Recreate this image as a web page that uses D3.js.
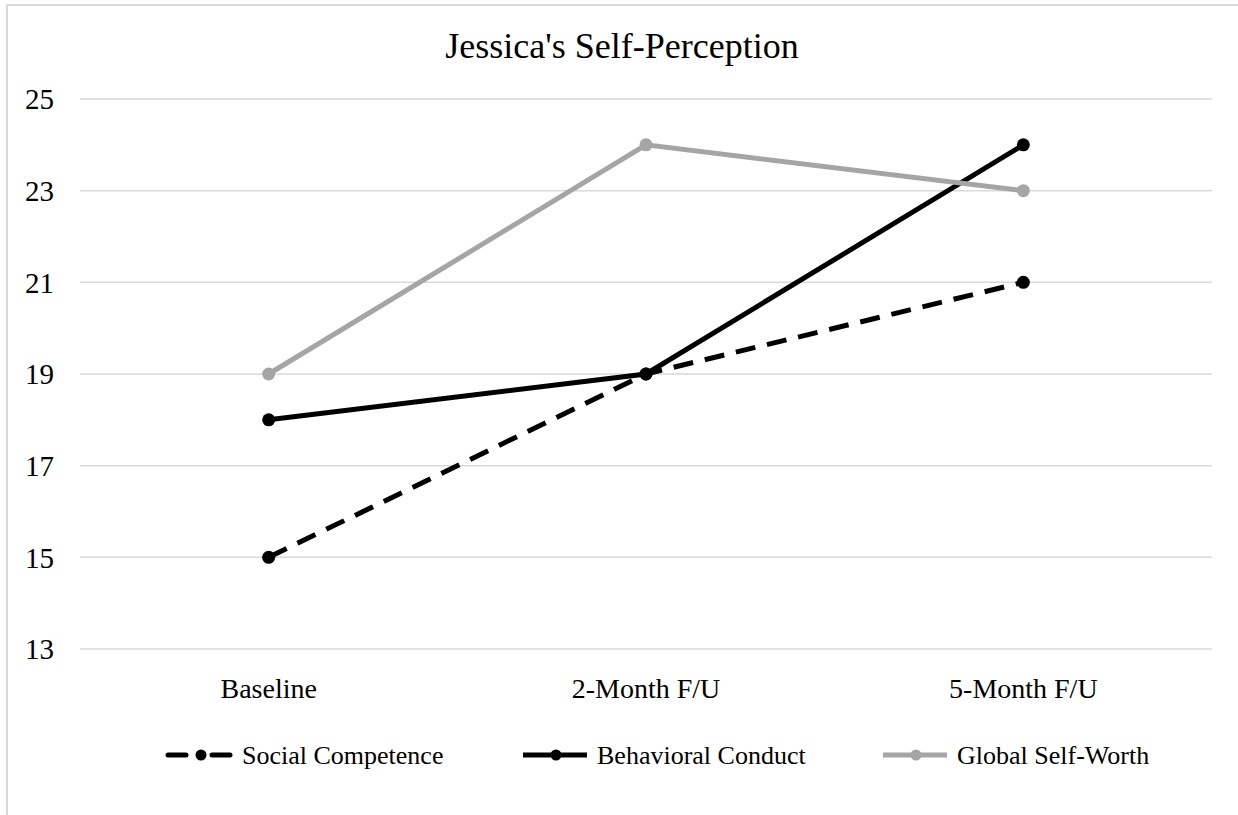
<!DOCTYPE html>
<html lang="en">
<head>
    <meta charset="UTF-8">
    <title>Jessica's Self-Perception</title>
    <script src="https://d3js.org/d3.v7.min.js"></script>
    <style>
        body { margin: 0; background: #fff; }
        text { font-family: "Liberation Serif", "Times New Roman", serif; fill: #000; }
    </style>
</head>
<body>
<script>
    // data
    var categories = ['Baseline', '2-Month F/U', '5-Month F/U'];
    var yTicks = [13, 15, 17, 19, 21, 23, 25];
    var seriesNames = ['Social Competence', 'Behavioral Conduct', 'Global Self-Worth'];
    var socialCompetence = [15, 19, 21];
    var behavioralConduct = [18, 19, 24];
    var globalSelfWorth = [19, 24, 23];

    var w = 1238, h = 815;
    var plotLeft = 80, plotRight = 1212, plotTop = 99, plotBottom = 649;

    var svg = d3.select('body').append('svg')
        .attr('width', w)
        .attr('height', h);

    // frame
    svg.append('rect')
        .attr('x', 7).attr('y', 5)
        .attr('width', w + 10).attr('height', h + 10)
        .attr('fill', 'none')
        .attr('stroke', '#d9d9d9')
        .attr('stroke-width', 2);

    var x = d3.scaleBand().domain(categories).range([plotLeft, plotRight]);
    var y = d3.scaleLinear().domain([13, 25]).range([plotBottom, plotTop]);

    // gridlines
    svg.append('g')
        .selectAll('line')
        .data(yTicks)
        .enter()
        .append('line')
        .attr('x1', plotLeft).attr('x2', plotRight)
        .attr('y1', d => y(d)).attr('y2', d => y(d))
        .attr('stroke', '#d9d9d9')
        .attr('stroke-width', 1.5);

    // y axis
    var yAxis = d3.axisLeft(y).tickValues(yTicks).tickSize(0).tickPadding(0);
    var gy = svg.append('g')
        .attr('transform', 'translate(54,0)')
        .call(yAxis);
    gy.select('.domain').remove();
    gy.selectAll('text')
        .attr('font-size', 29)
        .attr('font-family', '"Liberation Serif", serif')
        .attr('dy', '0.34em');

    // x axis
    var xAxis = d3.axisBottom(x).tickSize(0).tickPadding(0);
    var gx = svg.append('g')
        .attr('transform', 'translate(0,' + (plotBottom + 24) + ')')
        .call(xAxis);
    gx.select('.domain').remove();
    gx.selectAll('text')
        .attr('font-size', 28)
        .attr('font-family', '"Liberation Serif", serif')
        .attr('dy', '0.9em');

    // title
    svg.append('text')
        .attr('x', 622)
        .attr('y', 58)
        .attr('text-anchor', 'middle')
        .attr('font-size', 36)
        .text("Jessica's Self-Perception");

    var series = [
        { name: seriesNames[0], values: socialCompetence, color: '#000', dash: '20,12' },
        { name: seriesNames[1], values: behavioralConduct, color: '#000', dash: null },
        { name: seriesNames[2], values: globalSelfWorth, color: '#a5a5a5', dash: null }
    ];

    var cx = d => x(d) + x.bandwidth() / 2;
    var line = d3.line()
        .x((d, i) => cx(categories[i]))
        .y(d => y(d));

    series.forEach(function (s) {
        svg.append('path')
            .datum(s.values)
            .attr('d', line)
            .attr('fill', 'none')
            .attr('stroke', s.color)
            .attr('stroke-width', 5)
            .attr('stroke-dasharray', s.dash);

        svg.selectAll(null)
            .data(s.values)
            .enter()
            .append('circle')
            .attr('cx', (d, i) => cx(categories[i]))
            .attr('cy', d => y(d))
            .attr('r', 6.5)
            .attr('fill', s.color);
    });

    // legend
    var legendX = [168, 523, 883];
    var ly = 755;
    var lg = svg.append('g');
    series.forEach(function (s, i) {
        var g = lg.append('g').attr('transform', 'translate(' + legendX[i] + ',' + ly + ')');
        if (s.dash) {
            g.append('line').attr('x1', 0).attr('x2', 18).attr('y1', 0).attr('y2', 0)
                .attr('stroke', s.color).attr('stroke-width', 5).attr('stroke-linecap', 'round');
            g.append('line').attr('x1', 44).attr('x2', 62).attr('y1', 0).attr('y2', 0)
                .attr('stroke', s.color).attr('stroke-width', 5).attr('stroke-linecap', 'round');
        } else {
            g.append('line').attr('x1', 0).attr('x2', 64).attr('y1', 0).attr('y2', 0)
                .attr('stroke', s.color).attr('stroke-width', 5);
        }
        g.append('circle').attr('cx', 33).attr('cy', 0).attr('r', 5.5).attr('fill', s.color);
        g.append('text')
            .attr('x', 74)
            .attr('y', 0)
            .attr('dy', '0.35em')
            .attr('font-size', 26)
            .text(s.name);
    });
</script>
</body>
</html>
